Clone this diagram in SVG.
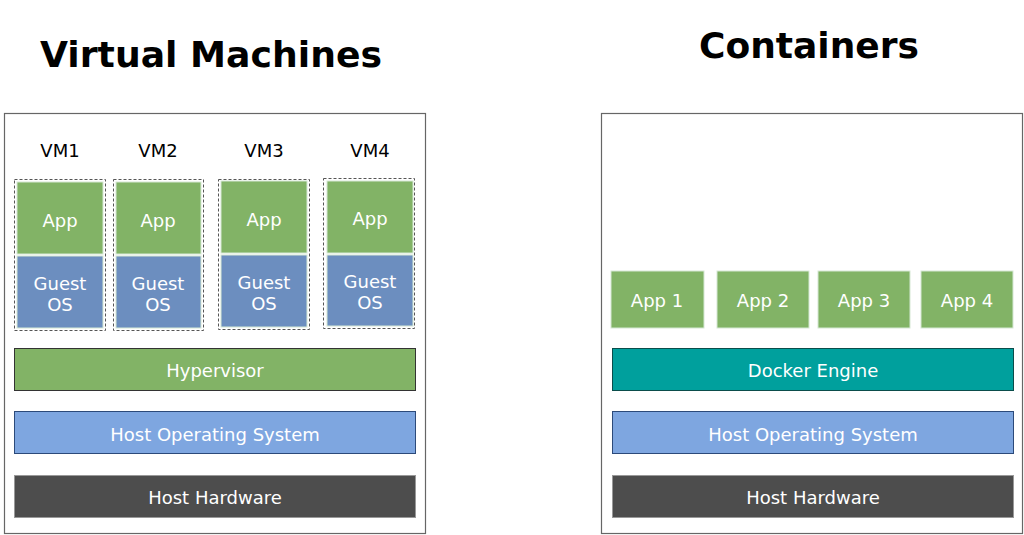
<svg xmlns="http://www.w3.org/2000/svg" width="1024" height="535" viewBox="0 0 1024 535">
<style>
text{font-family:"DejaVu Sans","Liberation Sans",sans-serif;}
.title{font-size:36px;font-weight:bold;fill:#000;text-anchor:middle;}
.vm{font-size:18px;fill:#000;text-anchor:middle;}
.lbl{font-size:18px;fill:#fff;text-anchor:middle;}
.outer{fill:#fff;stroke:#666;stroke-width:1.2;}
.dash{fill:none;stroke:#555;stroke-width:1;stroke-dasharray:3 2;}
.app{fill:#82b366;stroke:#d5e8d4;stroke-width:1;}
.gos{fill:#6c8ebf;stroke:#d5e8d4;stroke-width:1;}
.hyp{fill:#82b366;stroke:#333;stroke-width:1;}
.hos{fill:#7ea6e0;stroke:#2c4a7a;stroke-width:1;}
.hw{fill:#4d4d4d;stroke:#999;stroke-width:1;}
.dk{fill:#00a09d;stroke:#0b4d4b;stroke-width:1;}
</style>
<rect width="1024" height="535" fill="#fff"/>
<text class="title" x="211" y="67" textLength="342" lengthAdjust="spacingAndGlyphs">Virtual Machines</text>
<text class="title" x="809" y="58" textLength="220" lengthAdjust="spacingAndGlyphs">Containers</text>

<g id="vm-panel"><rect class="outer" x="4.5" y="113.5" width="421" height="420"/></g>
<g id="containers-panel"><rect class="outer" x="601.5" y="113.5" width="421" height="420"/></g>

<g id="vm1">
<text class="vm" x="60" y="157">VM1</text>
<rect class="dash" x="14.5" y="179.5" width="91" height="151"/>
<rect class="app" x="17" y="182" width="86" height="72"/><text class="lbl" x="60" y="227">App</text>
<rect class="gos" x="17" y="256" width="86" height="72"/><text class="lbl" x="60" y="290">Guest</text><text class="lbl" x="60" y="311">OS</text>
</g>
<g id="vm2">
<text class="vm" x="158" y="157">VM2</text>
<rect class="dash" x="113.5" y="179.5" width="90" height="151"/>
<rect class="app" x="116" y="182" width="85" height="72"/><text class="lbl" x="158" y="227">App</text>
<rect class="gos" x="116" y="256" width="85" height="72"/><text class="lbl" x="158" y="290">Guest</text><text class="lbl" x="158" y="311">OS</text>
</g>
<g id="vm3">
<text class="vm" x="264" y="157">VM3</text>
<rect class="dash" x="218.5" y="179.5" width="91" height="150"/>
<rect class="app" x="221" y="181" width="86" height="72"/><text class="lbl" x="264" y="226">App</text>
<rect class="gos" x="221" y="255" width="86" height="72"/><text class="lbl" x="264" y="289">Guest</text><text class="lbl" x="264" y="310">OS</text>
</g>
<g id="vm4">
<text class="vm" x="370" y="157">VM4</text>
<rect class="dash" x="323.5" y="178.5" width="91" height="150"/>
<rect class="app" x="327" y="181" width="86" height="72"/><text class="lbl" x="370" y="225">App</text>
<rect class="gos" x="327" y="255" width="86" height="71"/><text class="lbl" x="370" y="288">Guest</text><text class="lbl" x="370" y="309">OS</text>
</g>

<g id="hypervisor"><rect class="hyp" x="14.5" y="348.5" width="401" height="42"/><text class="lbl" x="215" y="377">Hypervisor</text></g>
<g id="vm-host-os"><rect class="hos" x="14.5" y="411.5" width="401" height="42"/><text class="lbl" x="215" y="441">Host Operating System</text></g>
<g id="vm-host-hw"><rect class="hw" x="14.5" y="475.5" width="401" height="42"/><text class="lbl" x="215" y="504">Host Hardware</text></g>

<g id="app1"><rect class="app" x="611" y="271" width="93" height="57"/><text class="lbl" x="657" y="307">App 1</text></g>
<g id="app2"><rect class="app" x="717" y="271" width="92" height="57"/><text class="lbl" x="763" y="307">App 2</text></g>
<g id="app3"><rect class="app" x="818" y="271" width="92" height="57"/><text class="lbl" x="864" y="307">App 3</text></g>
<g id="app4"><rect class="app" x="921" y="271" width="92" height="57"/><text class="lbl" x="967" y="307">App 4</text></g>

<g id="docker"><rect class="dk" x="612.5" y="348.5" width="401" height="42"/><text class="lbl" x="813" y="377">Docker Engine</text></g>
<g id="ct-host-os"><rect class="hos" x="612.5" y="411.5" width="401" height="42"/><text class="lbl" x="813" y="441">Host Operating System</text></g>
<g id="ct-host-hw"><rect class="hw" x="612.5" y="475.5" width="401" height="42"/><text class="lbl" x="813" y="504">Host Hardware</text></g>

<g id="connectors"></g>
</svg>
